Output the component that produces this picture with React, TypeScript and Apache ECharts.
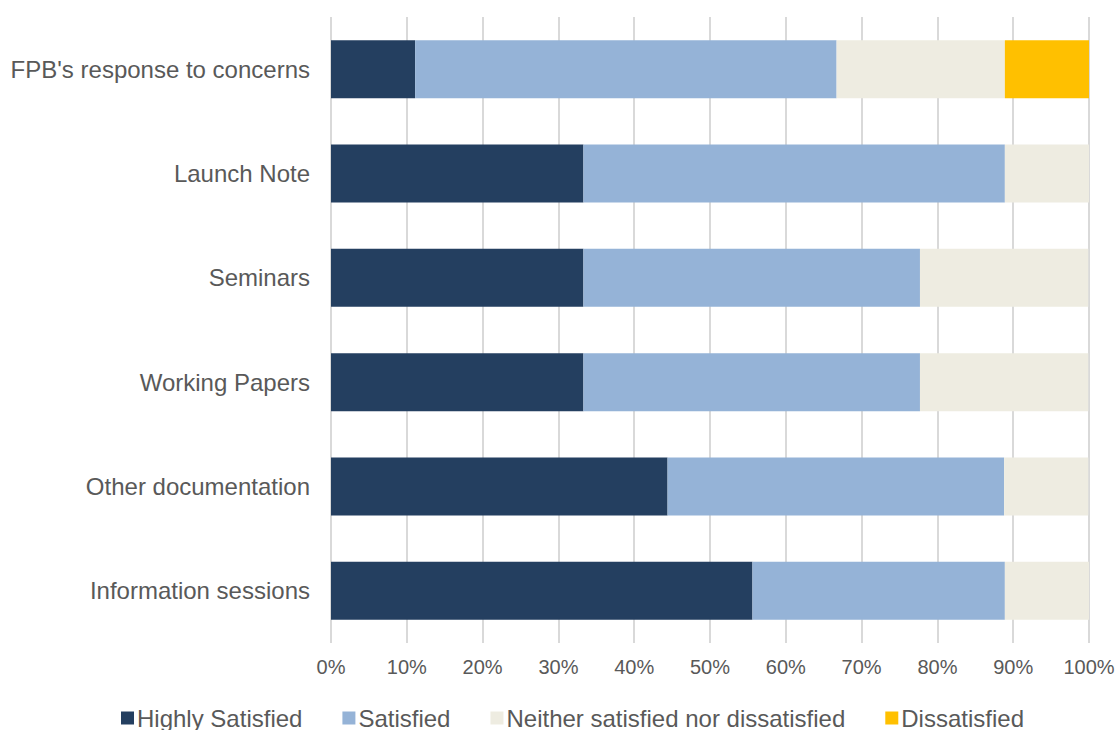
import React, { useEffect, useRef } from "react";
import * as echarts from "echarts";

const categories = [
  "FPB's response to concerns",
  "Launch Note",
  "Seminars",
  "Working Papers",
  "Other documentation",
  "Information sessions",
];
const highlySatisfied = [11.1, 33.3, 33.3, 33.3, 44.4, 55.6];
const satisfied = [55.6, 55.6, 44.4, 44.4, 44.4, 33.3];
const neither = [22.2, 11.1, 22.2, 22.2, 11.1, 11.1];
const dissatisfied = [11.1, 0, 0, 0, 0, 0];
const seriesNames = ["Highly Satisfied", "Satisfied", "Neither satisfied nor dissatisfied", "Dissatisfied"];
const colors = ["#243f60", "#95b3d7", "#eeece1", "#ffc000"];

export default function App() {
  const ref = useRef<HTMLDivElement>(null);
  useEffect(() => {
    const chart = echarts.init(ref.current!, null, { renderer: "svg" });
    const datasets = [highlySatisfied, satisfied, neither, dissatisfied];
    chart.setOption({
      animation: false,
      textStyle: { fontFamily: "Liberation Sans, Arial, sans-serif" },
      grid: { left: 331, right: 31, top: 17, bottom: 87, containLabel: false },
      legend: {
        top: 701,
        left: 116,
        itemWidth: 13,
        itemHeight: 13,
        itemGap: 40,
        icon: "rect",
        textStyle: { fontSize: 24, color: "#595959", padding: [0, 0, 0, -2] },
        data: seriesNames,
      },
      xAxis: {
        type: "value",
        min: 0,
        max: 100,
        interval: 10,
        axisLabel: { formatter: "{value}%", fontSize: 20, color: "#595959", margin: 14 },
        splitLine: { show: true, lineStyle: { color: "#d9d9d9", width: 2 } },
        axisLine: { show: false },
        axisTick: { show: false },
      },
      yAxis: {
        type: "category",
        inverse: true,
        data: categories,
        axisLabel: { fontSize: 24, color: "#595959", margin: 21 },
        axisLine: { show: false },
        axisTick: { show: false },
      },
      series: seriesNames.map((name, i) => ({
        name,
        type: "bar",
        stack: "total",
        barWidth: 58,
        itemStyle: { color: colors[i] },
        data: datasets[i],
      })),
    });
    return () => chart.dispose();
  }, []);
  return <div ref={ref} style={{ width: 1120, height: 730, position: "absolute", left: 0, top: 0 }} />;
}
